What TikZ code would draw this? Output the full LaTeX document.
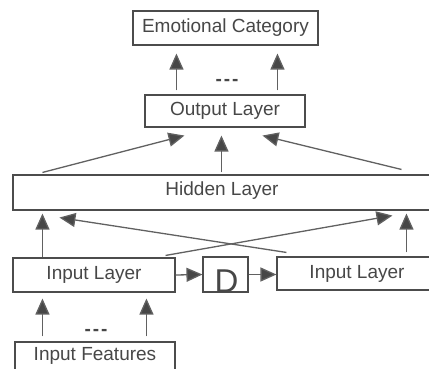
\documentclass[tikz,border=0pt]{standalone}
\usepackage{fontspec}
\setmainfont{Liberation Sans}
\usetikzlibrary{arrows.meta,calc}
\begin{document}
\begin{tikzpicture}[x=1pt,y=-1pt,
  box/.style={draw=black!70,line width=1.1pt,text=black!72,inner sep=0pt,
    font=\fontsize{19}{21}\selectfont},
  arr/.style={draw=black!62,line width=1.3pt,
    -{Triangle[length=16pt,width=14pt,fill=black!72]}},
  dots/.style={text=black!72,font=\fontsize{19}{21}\selectfont\bfseries}]
\useasboundingbox (0,0) rectangle (429,369);
\clip (0,0) rectangle (429,369);
\fill[white] (0,0) rectangle (429,369);
% boxes
\node[box,minimum width=185,minimum height=34] (emo) at (225.5,28) {Emotional Category};
\node[box,minimum width=160,minimum height=32] (out) at (225,111) {Output Layer};
\node[box,minimum width=427,minimum height=35] (hid) at (226.5,192.5) {};
\node[text=black!72,font=\fontsize{19}{21}\selectfont] (hidt) at (222,191) {Hidden Layer};
\node[box,minimum width=162,minimum height=34] (inl) at (94,275) {Input Layer};
\node[box,minimum width=45,minimum height=35] (d) at (225.5,274.5) {};
\node[text=black!72,font=\fontsize{33}{33}\selectfont,inner sep=0pt,anchor=base] (dt) at (226.5,292) {D};
\node[box,minimum width=160,minimum height=33] (inr) at (357,273.5) {Input Layer};
\node[box,minimum width=160,minimum height=28] (feat) at (95,356) {Input Features};
% dots
\node[dots] (dt1) at (227,82) {-\hspace{2pt}-\hspace{2pt}-};
\node[dots] (dt2) at (96,332) {-\hspace{2pt}-\hspace{2pt}-};
% output -> emotional
\draw[arr] ($(out.north west)+(32,-4)$) -- ($(emo.south west)+(44,8)$);
\draw[arr] ($(out.north west)+(133,-4)$) -- ($(emo.south west)+(145,8)$);
% hidden -> output
\draw[arr] ($(hid.north west)+(30,-2)$) -- ($(out.south west)+(40,8)$);
\draw[arr] ($(hid.north west)+(209,-2)$) -- ($(out.south west)+(77,8)$);
\draw[arr] ($(hid.north west)+(389,-5)$) -- ($(out.south west)+(118,8)$);
% inputs -> hidden
\draw[arr] ($(inl.north west)+(30,0)$) -- ($(hid.south west)+(30,3)$);
\draw[arr] ($(inl.north east)+(-10,-2)$) -- ($(hid.south west)+(380,5)$);
\draw[arr] ($(inr.north west)+(10,-4)$) -- ($(hid.south west)+(47,7)$);
\draw[arr] ($(inr.north west)+(130,-4)$) -- ($(hid.south west)+(394,3)$);
% delay chain
\draw[arr] (inl.east) -- (d.west);
\draw[arr] (d.east) -- (d.east -| inr.west);
% features -> input layer
\draw[arr] ($(feat.north west)+(28,-5)$) -- ($(inl.south west)+(30,6)$);
\draw[arr] ($(feat.north west)+(132,-5)$) -- ($(inl.south west)+(134,6)$);
\end{tikzpicture}
\end{document}
